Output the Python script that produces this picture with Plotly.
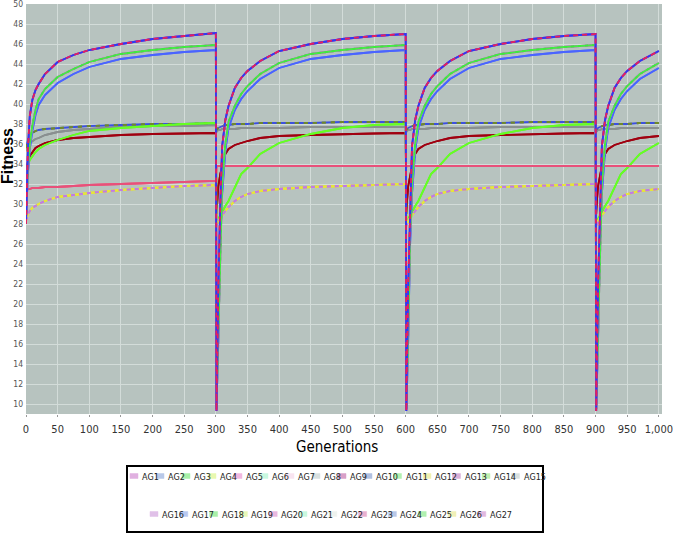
import plotly.graph_objects as go

# ---------------- data ----------------
# generations sampled in the first run, and offsets after each restart
gen_first = [0, 1, 3, 6, 10, 15, 20, 30, 50, 75, 100, 150, 200, 250, 300]
restart_offsets = [1, 2, 4, 7, 10, 15, 20, 30, 40, 50, 70, 100, 150, 200, 250, 300]
restart_starts = [300, 600, 900]
gen_max = 1000

top_first = [28.0, 31.5, 35.5, 38.8, 40.4, 41.4, 42.0, 43.0, 44.2, 44.9, 45.4, 46.0, 46.5, 46.8, 47.1]
top_restart = [9.3, 14.0, 22.0, 30.0, 35.8, 38.4, 39.8, 41.6, 42.6, 43.3, 44.3, 45.3, 46.0, 46.5, 46.8, 47.0]

second_first = [28.5, 30.5, 33.5, 36.0, 37.8, 39.4, 40.5, 41.5, 42.7, 43.5, 44.2, 45.0, 45.4, 45.7, 45.9]
second_restart = [9.5, 12.0, 17.0, 27.0, 32.0, 36.0, 38.2, 39.8, 41.0, 41.8, 43.0, 44.1, 45.0, 45.4, 45.7, 45.9]

secondlow_first = [28.5, 30.0, 33.0, 35.5, 37.3, 38.9, 39.9, 40.9, 42.1, 43.0, 43.7, 44.5, 44.9, 45.2, 45.4]
secondlow_restart = [9.5, 11.5, 16.5, 26.0, 31.0, 35.3, 37.6, 39.4, 40.5, 41.3, 42.5, 43.6, 44.5, 44.9, 45.2, 45.4]

plateau_first = [35.6, 36.0, 36.4, 36.8, 37.1, 37.3, 37.4, 37.5, 37.6, 37.7, 37.8, 37.9, 38.0, 38.0, 38.1]
plateau_restart = [37.4, 37.5, 37.6, 37.7, 37.8, 37.9, 37.9, 38.0, 38.0, 38.0, 38.1, 38.1, 38.1, 38.2, 38.2, 38.2]

plateau_gray_first = [35.3, 35.6, 35.9, 36.1, 36.3, 36.5, 36.6, 36.9, 37.2, 37.4, 37.5, 37.7, 37.8, 37.8, 37.9]
plateau_gray_restart = [37.2, 37.3, 37.4, 37.4, 37.5, 37.5, 37.5, 37.5, 37.6, 37.6, 37.6, 37.6, 37.7, 37.7, 37.7, 37.7]

green_first = [33.0, 33.4, 33.9, 34.4, 34.8, 35.2, 35.5, 35.9, 36.4, 36.9, 37.3, 37.6, 37.8, 38.0, 38.1]
green_restart = [28.0, 28.2, 28.5, 28.9, 29.3, 29.8, 30.3, 31.7, 33.0, 33.6, 35.0, 36.1, 37.0, 37.6, 37.9, 38.0]

darkred_first = [33.2, 33.6, 34.2, 34.8, 35.2, 35.6, 35.8, 36.1, 36.4, 36.6, 36.7, 36.9, 37.0, 37.05, 37.1]
darkred_restart = [29.0, 30.2, 31.8, 33.0, 33.8, 35.0, 35.5, 35.9, 36.1, 36.3, 36.6, 36.8, 36.9, 37.0, 37.05, 37.1]

pink_first = [31.0, 31.3, 31.5, 31.5, 31.6, 31.6, 31.6, 31.7, 31.7, 31.8, 31.9, 32.0, 32.1, 32.2, 32.3]
pink_restart = [33.7, 33.8, 33.8, 33.8, 33.8, 33.8, 33.8, 33.8, 33.8, 33.8, 33.8, 33.8, 33.8, 33.8, 33.8, 33.8]

yellow_first = [28.3, 28.6, 29.0, 29.3, 29.6, 29.8, 30.0, 30.3, 30.7, 30.9, 31.1, 31.4, 31.6, 31.8, 31.9]
yellow_restart = [27.8, 28.0, 28.3, 28.6, 28.9, 29.3, 29.7, 30.3, 30.7, 31.0, 31.3, 31.5, 31.7, 31.8, 31.9, 32.0]

series_names = ["AG%d" % i for i in range(1, 28)]
series_group = ["top", "secondlow", "second", "yellow", "second", "plateau", "pink", "plateau_gray",
                "darkred", "plateau", "green", "yellow", "yellow", "green", "plateau_gray",
                "top", "top", "second", "yellow", "second", "plateau", "pink", "pink",
                "secondlow", "darkred", "yellow", "top"]

x_ticks = list(range(0, 1001, 50))
y_ticks = list(range(10, 51, 2))

# ---------------- styles ----------------
line_colors = ["#9a3cd0", "#4a64ff", "#3ee83e", "#e6e63a", "#e04ce0", "#7a8a30", "#f06a8a", "#7d8585",
               "#a00010", "#3c50e0", "#66ff22", "#dede3a", "#c07ae8", "#55ee33", "#8a9090",
               "#e8205a", "#2c3cf0", "#44ee44", "#e6e63a", "#d850d8", "#6f8a2a", "#e85a7a", "#e8507a",
               "#5068ff", "#a00010", "#c07ae8", "#9a3cd0"]
line_dashes = ["solid"] * 27
line_dashes[15] = "5px,4px"   # AG16 red over blue
line_dashes[12] = "4px,4px"   # AG13 purple over yellow
line_dashes[25] = "4px,4px"
line_dashes[2] = "3px,4px"    # AG3 green over magenta
line_dashes[5] = "4px,5px"    # AG6 olive over blue
line_dashes[20] = "4px,5px"
swatch_colors = ["#e0b0e0", "#b8c8e8", "#a8f0a8", "#e8f8b0", "#f0b8e0", "#c8f8e0", "#f8e4f0", "#d8e0e0",
                 "#d8a0c8", "#b0c0e0", "#b0f0b0", "#f0f0b0", "#d8b0d8", "#c0f0b0", "#d8e0e0",
                 "#e0c0e8", "#b8c8f0", "#a8f0a8", "#e8f8b8", "#e8b8e0", "#c8f8e0", "#eef2ee",
                 "#e8b0d0", "#b8c8e8", "#b0f0b0", "#f0f0b8", "#e0b8e0"]
# drawing order (bottom to top), by series number
draw_order = [8, 15, 10, 6, 21, 9, 25, 14, 11, 7, 22, 23, 4, 12, 19, 13, 26,
              24, 2, 5, 20, 18, 3, 1, 27, 17, 16]

group_data = {
    "top": (top_first, top_restart),
    "second": (second_first, second_restart),
    "secondlow": (secondlow_first, secondlow_restart),
    "plateau": (plateau_first, plateau_restart),
    "plateau_gray": (plateau_gray_first, plateau_gray_restart),
    "green": (green_first, green_restart),
    "darkred": (darkred_first, darkred_restart),
    "pink": (pink_first, pink_restart),
    "yellow": (yellow_first, yellow_restart),
}


def build(first, restart):
    xs = list(gen_first)
    ys = list(first)
    for r in restart_starts:
        for t, v in zip(restart_offsets, restart):
            g = r + t
            if g <= gen_max:
                xs.append(g)
                ys.append(v)
    return xs, ys


fig = go.Figure()
for n in draw_order:
    i = n - 1
    first, restart = group_data[series_group[i]]
    xs, ys = build(first, restart)
    fig.add_trace(go.Scatter(
        x=xs, y=ys, mode="lines", name=series_names[i], showlegend=False,
        line=dict(color=line_colors[i], width=1.8, dash=line_dashes[i]),
    ))

# ---------------- layout ----------------
L, R, T, B = 26, 11, 4, 121
W, H = 673, 535
PW, PH = W - L - R, H - T - B


def px(x):
    return (x - L) / PW


def py(y):
    return (H - B - y) / PH


narrow = "Liberation Sans Narrow, DejaVu Sans Condensed, Arial Narrow, sans-serif"

fig.update_layout(
    width=W, height=H, autosize=False,
    margin=dict(l=L, r=R, t=T, b=B, pad=0, autoexpand=False),
    paper_bgcolor="white",
    plot_bgcolor="#b7c3bf",
    showlegend=False,
    xaxis=dict(range=[0, 1005], tickvals=x_ticks, tickformat=",", showgrid=True,
               gridcolor="#d3dcd9", gridwidth=1, zeroline=False, showline=False,
               ticks="outside", ticklen=2, tickcolor="#999999", automargin=False,
               ticklabeloverflow="allow",
               tickfont=dict(family=narrow, size=11, color="#333333"), ticklabelstandoff=3),
    yaxis=dict(range=[9, 50], tickvals=y_ticks, showgrid=True,
               gridcolor="#d3dcd9", gridwidth=1, zeroline=False, showline=False,
               ticks="", automargin=False, ticklabeloverflow="allow",
               tickfont=dict(family=narrow, size=8.5, color="#555555"),
               ticklabelstandoff=2),
)

annotations = [
    dict(text="<b>Fitness</b>", x=px(7), y=py(156), xref="paper", yref="paper",
         showarrow=False, textangle=-90, xanchor="center", yanchor="middle",
         font=dict(family="Liberation Sans, Arial, sans-serif", size=16, color="black")),
    dict(text="Generations", x=px(337), y=py(447), xref="paper", yref="paper",
         showarrow=False, xanchor="center", yanchor="middle",
         font=dict(family=narrow, size=15, color="black")),
]
shapes = [
    dict(type="rect", xref="paper", yref="paper", x0=px(127), x1=px(543), y0=py(532), y1=py(466),
         line=dict(color="black", width=2), fillcolor="white", layer="below"),
]

# legend rows (manual, compact like the original)
rows = [(list(range(0, 15)), 130, 476, 29.5), (list(range(15, 27)), 150, 514, 29.8)]
for idxs, x_start, y_c, wide_step in rows:
    xcur = x_start
    for i in idxs:
        name = series_names[i]
        shapes.append(dict(type="rect", xref="paper", yref="paper",
                           x0=px(xcur), x1=px(xcur + 8), y0=py(y_c + 2.5), y1=py(y_c - 2.5),
                           line=dict(color=swatch_colors[i], width=0.5), fillcolor=swatch_colors[i]))
        annotations.append(dict(text=name, x=px(xcur + 10), y=py(y_c + 1), xref="paper", yref="paper",
                                showarrow=False, xanchor="left", yanchor="middle",
                                font=dict(family=narrow, size=9, color="#222222")))
        xcur += 26 if len(name) == 3 else wide_step

fig.update_layout(annotations=annotations, shapes=shapes)
fig.write_html("out.html", config={"displayModeBar": False},
               post_script="document.body.style.margin='0px';document.body.style.overflow='hidden';")
